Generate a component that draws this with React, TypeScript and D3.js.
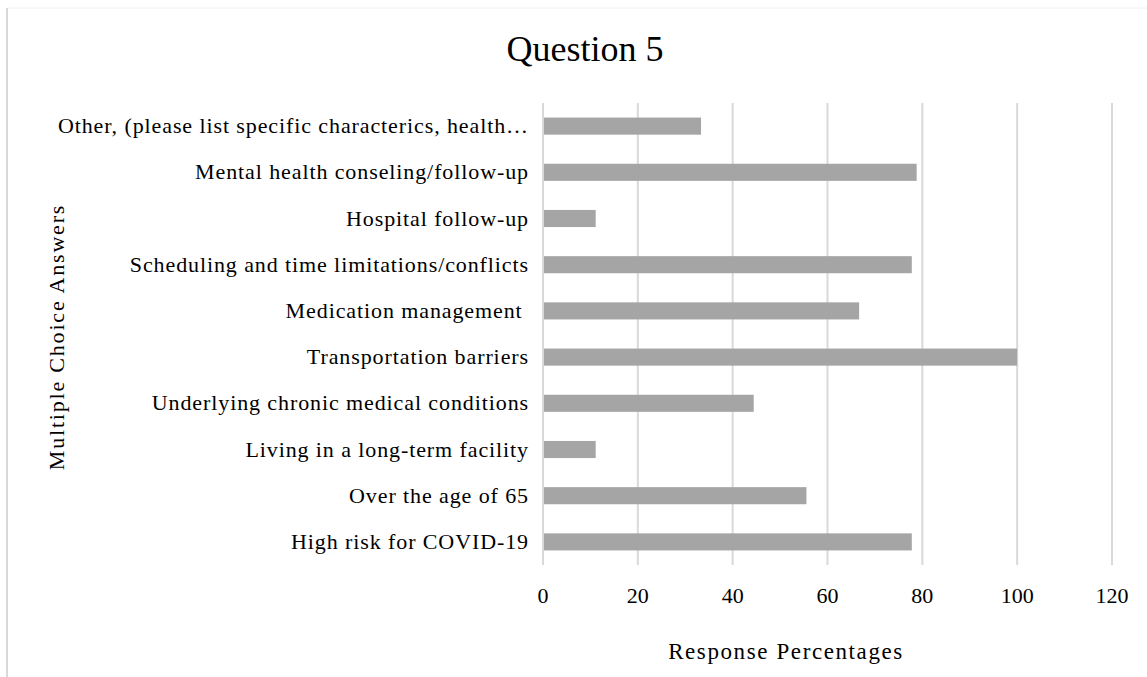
import React from "react";
import * as d3 from "d3";

// Answer options, top to bottom as listed on the chart
const categories: string[] = [
  "Other, (please list specific characterics, health…",
  "Mental health conseling/follow-up",
  "Hospital follow-up",
  "Scheduling and time limitations/conflicts",
  "Medication management ",
  "Transportation barriers",
  "Underlying chronic medical conditions",
  "Living in a long-term facility",
  "Over the age of 65",
  "High risk for COVID-19",
];

// Percentage of respondents choosing each option
const responseValues: number[] = [33.33, 78.8, 11.11, 77.78, 66.67, 100, 44.44, 11.11, 55.56, 77.78];

const xTicks: number[] = [0, 20, 40, 60, 80, 100, 120];

const chartTitle = "Question 5";
const xAxisTitle = "Response Percentages";
const yAxisTitle = "Multiple Choice Answers";

const W = 1147;
const H = 677;
const FONT = "'Liberation Serif', 'Times New Roman', serif";

export default function App() {
  const x = d3.scaleLinear().domain([0, 120]).range([543, 1112]);
  const y = d3
    .scaleBand<string>()
    .domain(categories)
    .range([103, 565])
    .paddingInner(0.63)
    .paddingOuter(0.315);

  const [plotTop, plotBottom] = y.range();

  return (
    <div style={{ position: "fixed", left: 0, top: 0 }}>
      <svg width={W} height={H} style={{ display: "block", background: "#fff" }} fontFamily={FONT}>
        {/* chart frame */}
        <line x1={7} x2={W} y1={8} y2={8} stroke="#f2f2f2" strokeWidth={1} />
        <line x1={7} x2={7} y1={8} y2={H} stroke="#d9d9d9" strokeWidth={2} />

        <text x={585} y={61} textAnchor="middle" fontSize={36} fill="#000">
          {chartTitle}
        </text>

        {/* vertical gridlines */}
        {xTicks.map((t) => (
          <line
            key={"g" + t}
            x1={x(t)}
            x2={x(t)}
            y1={plotTop}
            y2={plotBottom}
            stroke="#d9d9d9"
            strokeWidth={2}
          />
        ))}

        {/* bars */}
        {categories.map((c, i) => (
          <rect
            key={"b" + i}
            x={x(0) + 1}
            y={y(c)}
            width={x(responseValues[i]) - x(0) - 1}
            height={y.bandwidth()}
            fill="#a5a5a5"
          />
        ))}

        {/* category labels */}
        {categories.map((c, i) => (
          <text
            key={"l" + i}
            x={529}
            y={(y(c) as number) + y.bandwidth() / 2 + 7}
            textAnchor="end"
            fontSize={22}
            letterSpacing={0.9}
            fill="#000"
            style={{ whiteSpace: "pre" }}
          >
            {c}
          </text>
        ))}

        {/* tick labels */}
        {xTicks.map((t) => (
          <text key={"t" + t} x={x(t)} y={603} textAnchor="middle" fontSize={22} fill="#000">
            {t}
          </text>
        ))}

        <text x={786} y={659} textAnchor="middle" fontSize={23} letterSpacing={1.6} fill="#000">
          {xAxisTitle}
        </text>

        <text
          transform="translate(64,337) rotate(-90)"
          textAnchor="middle"
          fontSize={22}
          letterSpacing={1.8}
          fill="#000"
        >
          {yAxisTitle}
        </text>
      </svg>
    </div>
  );
}
